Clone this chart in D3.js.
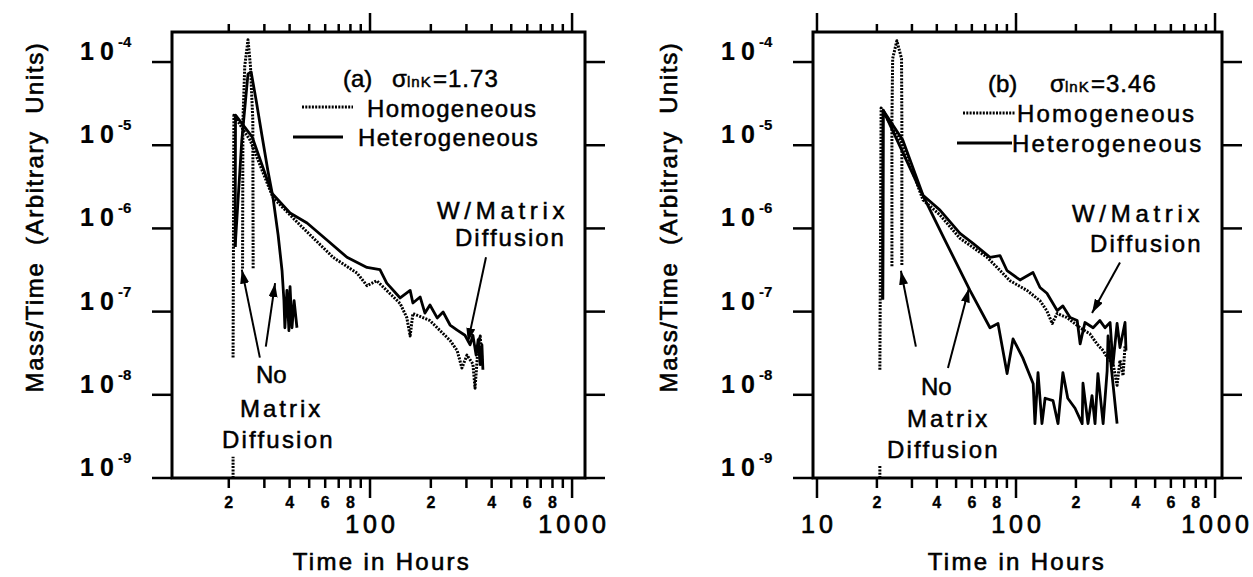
<!DOCTYPE html>
<html>
<head>
<meta charset="utf-8">
<script src="https://cdn.jsdelivr.net/npm/d3@7"></script>
<style>
  body { margin: 0; background: #fff; }
  svg { display: block; font-family: 'Liberation Sans', Arial, Helvetica, sans-serif; }
</style>
</head>
<body>
<svg id="chart" width="1253" height="577"></svg>
<script>
// Values: [time in hours, mass/time]; null = gap in the trace

// (a) sigma lnK = 1.73
const homNoMD_a = [[23.4, 3.3e-7], [23.5, 2e-5], [24.0, 9e-5], [24.9, 1.85e-4], [25.6, 9e-5], [26.3, 2e-5], [26.4, 3.3e-7]];
const homMD_a = [[21.0, 1e-9], [21.0, 1.8e-9], [21.0, null], [21.0, 2.8e-8], [21.2, 2.3e-5], [25.5, 1.15e-5],
  [33.1, 2.35e-6], [45, 1.1e-6], [65.6, 4.5e-7], [86.3, 2.9e-7], [96.6, 2.05e-7], [108, 2.35e-7], [141, 1.25e-7],
  [152, 8.5e-8], [158, 5.1e-8], [163, 9.5e-8], [198, 7.8e-8], [249, 4.5e-8], [270, 3.4e-8], [285, 2.1e-8],
  [302, 3e-8], [323, 2.35e-8], [331, 1.2e-8], [343, 3.9e-8], [351, 5.1e-8], [358, 2.6e-8]];
const hetNoMD_a = [[21.5, 6e-7], [23.2, 1.15e-5], [24.9, 7.2e-5], [25.8, 7.6e-5], [27.3, 3.5e-5], [29.2, 1.3e-5],
  [31.2, 5e-6], [33.1, 2.35e-6], [35.1, 8.3e-7], [36.7, 3.1e-7], [37.5, 1.35e-7], [37.9, 6.4e-8], [38.8, 1.8e-7],
  [39.7, 5.9e-8], [40.2, 2e-7], [41.1, 6.4e-8], [42.1, 1.35e-7], [43.5, 6.4e-8]];
const hetMD_a = [[21.5, 6e-7], [21.6, 2.3e-5], [26.1, 1.26e-5], [32.7, 2.66e-6], [40.2, 1.53e-6], [48.8, 1.16e-6],
  [61.2, 7.25e-7], [76.9, 4.5e-7], [96.6, 3.4e-7], [112, 3.2e-7], [121, 2.2e-7], [141, 1.46e-7], [158, 1.8e-7],
  [163, 1.27e-7], [177, 1.5e-7], [187, 9.6e-8], [198, 1.2e-7], [215, 8.4e-8], [230, 9.9e-8], [249, 6.9e-8],
  [270, 6e-8], [295, 5.2e-8], [313, 4e-8], [323, 5.2e-8], [335, 3e-8], [343, 4.6e-8], [351, 2.3e-8],
  [358, 4e-8], [362, 2e-8]];

// (b) sigma lnK = 3.46
const homNoMD_b = [[23.8, 3.5e-7], [23.8, 2e-5], [24.0, 1.1e-4], [25.2, 1.8e-4], [26.6, 1.1e-4], [26.7, 2e-5], [26.7, 3.5e-7]];
const homMD_b = [[20.7, 1e-9], [20.7, 1.4e-9], [20.7, null], [20.7, 2e-8], [21.0, 2.8e-5], [27.0, 1.0e-5],
  [34.1, 2.2e-6], [41.5, 1.45e-6], [52.3, 7.6e-7], [71.5, 4.5e-7], [80.3, 3.4e-7], [93.3, 2.35e-7],
  [113.5, 1.8e-7], [132, 1.35e-7], [143, 1.02e-7], [152, 7.2e-8], [161, 9.5e-8], [180, 8.5e-8], [210, 6.4e-8],
  [235, 5.4e-8], [255, 4.1e-8], [274, 3.4e-8], [290, 2.7e-8], [307, 2.4e-8], [322, 1.3e-8], [333, 2.6e-8],
  [345, 1.7e-8], [353, 3.9e-8]];
const hetNoMD_b = [[21.4, 1.4e-7], [21.5, 2.64e-5], [33.0, 2.9e-6], [44.0, 7.2e-7], [58.7, 1.8e-7], [74.0, 6.4e-8],
  [81.2, 7.2e-8], [90.2, 1.8e-8], [96.6, 4.7e-8], [108, 2.8e-8], [122, 1.36e-8], [124.5, 4.5e-9], [129, 1.85e-8],
  [135, 4.5e-9], [140, 9.1e-9], [153.5, 8.5e-9], [162.6, 4.5e-9], [172, 1.85e-8], [182, 9.1e-9], [198, 6.9e-9],
  [215, 4.5e-9], [217, 1.38e-8], [230, 4.5e-9], [241, 9.8e-9], [249.5, 4.5e-9], [258, 1.8e-8], [274, 4.5e-9],
  [287, 1.94e-8], [290, 5.1e-8], [322, 4.5e-9]];
const hetMD_b = [[21.4, 1.4e-7], [21.5, 2.64e-5], [27.0, 1.15e-5], [34.1, 2.5e-6], [41.5, 1.66e-6], [52.3, 8.7e-7],
  [60.8, 6.6e-7], [74.0, 4.5e-7], [83.1, 4.7e-7], [90.2, 3.1e-7], [104.7, 2.4e-7], [121.7, 2.95e-7], [132, 1.95e-7],
  [143, 1.66e-7], [161, 1.03e-7], [172, 1.17e-7], [187, 8.5e-8], [203, 7.8e-8], [210, 4.1e-8], [222, 7.4e-8],
  [244, 6.4e-8], [264, 7.8e-8], [280, 6.4e-8], [297, 7.4e-8], [307, 2.3e-8], [322, 7.2e-8], [333, 3.7e-8],
  [353, 7.4e-8], [357, 3.4e-8]];

// axis ticks
const Y_EXPONENTS = [-4, -5, -6, -7, -8, -9];
const X_DECADES = [10, 100, 1000];
const X_MINOR_LABELS = [2, 4, 6, 8];

const FONT = 24;
const DOTS = '2,1.3';
const svg = d3.select('#chart');

svg.append('defs').append('marker')
    .attr('id', 'head')
    .attr('viewBox', '0 0 10 10')
    .attr('refX', 10).attr('refY', 5)
    .attr('markerUnits', 'userSpaceOnUse')
    .attr('markerWidth', 14).attr('markerHeight', 9)
    .attr('preserveAspectRatio', 'none')
    .attr('orient', 'auto')
  .append('path')
    .attr('d', 'M0,0 L10,5 L0,10 Z')
    .attr('fill', '#000');

function addText(g, str, x, y, opts = {}) {
  return g.append('text')
      .attr('x', x).attr('y', y)
      .attr('font-size', opts.size || FONT)
      .attr('font-weight', opts.weight || 'normal')
      .attr('letter-spacing', opts.ls || 0)
      .attr('text-anchor', opts.anchor || 'start')
      .attr('fill', '#000')
      .attr('stroke', '#000')
      .attr('stroke-width', opts.sw == null ? 0.5 : opts.sw)
      .text(str);
}

function drawPanel(p) {
  const g = svg.append('g').attr('class', 'panel');
  const x = d3.scaleLog().domain(p.xDomain).range([p.left, p.right]);
  const y = d3.scaleLog().domain([1e-9, Math.pow(10, -3.639)]).range([p.bottom, p.top]);

  // frame
  g.append('rect')
      .attr('x', p.left).attr('y', p.top)
      .attr('width', p.right - p.left).attr('height', p.bottom - p.top)
      .attr('fill', 'none').attr('stroke', '#000').attr('stroke-width', 3);

  // x ticks top and bottom
  const xTicks = [];
  X_DECADES.forEach(d => d3.range(1, 10).forEach(m => {
    const v = m * d;
    if (v >= p.xDomain[0] && v <= p.xDomain[1]) xTicks.push({ v, m });
  }));
  g.selectAll('line.xt-top').data(xTicks).enter().append('line')
      .attr('x1', d => x(d.v)).attr('x2', d => x(d.v))
      .attr('y1', p.top).attr('y2', d => p.top - (d.m === 1 ? 19 : 8))
      .attr('stroke', '#000').attr('stroke-width', 2.5);
  g.selectAll('line.xt-bot').data(xTicks).enter().append('line')
      .attr('x1', d => x(d.v)).attr('x2', d => x(d.v))
      .attr('y1', p.bottom).attr('y2', d => p.bottom + (d.m === 1 ? 20 : 10))
      .attr('stroke', '#000').attr('stroke-width', 2.5);
  xTicks.filter(d => X_MINOR_LABELS.includes(d.m)).forEach(d => {
    addText(g, d.m, x(d.v), p.bottom + 30, { size: 16, weight: 'bold', anchor: 'middle', sw: 0.3 });
  });
  xTicks.filter(d => d.m === 1 && p.majorLabels.includes(d.v)).forEach(d => {
    addText(g, d.v, x(d.v) + 2, p.bottom + 55, { size: 25, anchor: 'middle', ls: 4, sw: 0.7 });
  });

  // y ticks both sides
  Y_EXPONENTS.forEach(e => {
    const yy = y(Math.pow(10, e));
    g.append('line').attr('x1', p.left - 20).attr('x2', p.left).attr('y1', yy).attr('y2', yy)
        .attr('stroke', '#000').attr('stroke-width', 2.5);
    g.append('line').attr('x1', p.right).attr('x2', p.right + 20).attr('y1', yy).attr('y2', yy)
        .attr('stroke', '#000').attr('stroke-width', 2.5);
    addText(g, '10', p.left - 92, yy - 2, { size: 25, weight: 'bold', ls: 6, sw: 0.2 });
    addText(g, `-${-e}`, p.left - 54, yy - 15, { size: 15, weight: 'bold', sw: 0.2 });
  });

  // axis titles
  g.append('text')
      .attr('transform', `translate(${p.yTitleX}, 217) rotate(-90)`)
      .attr('text-anchor', 'middle')
      .attr('font-size', FONT).attr('letter-spacing', 1.6)
      .attr('stroke', '#000').attr('stroke-width', 0.6)
      .style('white-space', 'pre')
      .text('Mass/Time  (Arbitrary  Units)');
  addText(g, 'Time in Hours', p.xTitleX, 570, { anchor: 'middle', ls: 2.3, sw: 0.6 });

  // curves
  const line = d3.line()
      .defined(d => d[1] != null)
      .x(d => x(d[0]))
      .y(d => y(d[1]));
  p.series.forEach(s => {
    g.append('path')
        .datum(s.data)
        .attr('d', line)
        .attr('fill', 'none')
        .attr('stroke', '#000')
        .attr('stroke-width', s.dotted ? 3 : 2.8)
        .attr('stroke-dasharray', s.dotted ? DOTS : null)
        .attr('stroke-linejoin', 'round');
  });

  // legend
  const L = p.legend;
  const title = g.append('text').attr('y', L.titleY).attr('font-size', FONT)
      .attr('stroke', '#000').attr('stroke-width', 0.5);
  title.append('tspan').attr('x', L.tagX).text(L.tag);
  title.append('tspan').attr('x', L.sigmaX).text('σ');
  title.append('tspan').attr('x', L.sigmaX + 15).attr('font-size', 15).attr('letter-spacing', 1).text('lnK');
  title.append('tspan').attr('x', L.sigmaX + 41).attr('letter-spacing', 1).text(L.value);
  g.append('line').attr('x1', L.dotX[0]).attr('x2', L.dotX[1]).attr('y1', L.dotY).attr('y2', L.dotY)
      .attr('stroke', '#000').attr('stroke-width', 3).attr('stroke-dasharray', DOTS);
  g.append('line').attr('x1', L.solX[0]).attr('x2', L.solX[1]).attr('y1', L.solY).attr('y2', L.solY)
      .attr('stroke', '#000').attr('stroke-width', 2.8);
  addText(g, 'Homogeneous', L.homX, L.homY, { ls: L.ls });
  addText(g, 'Heterogeneous', L.hetX, L.hetY, { ls: L.ls });

  // annotations
  p.notes.forEach(n => addText(g, n.text, n.x, n.y, { ls: n.ls }));
  p.arrows.forEach(a => {
    g.append('line')
        .attr('x1', x(a.from[0])).attr('y1', y(a.from[1]))
        .attr('x2', x(a.to[0])).attr('y2', y(a.to[1]))
        .attr('stroke', '#000').attr('stroke-width', 2)
        .attr('marker-end', 'url(#head)');
  });
}

drawPanel({
  left: 172, right: 585, top: 32, bottom: 478,
  xDomain: [Math.pow(10, 1.02), Math.pow(10, 3.064)],
  majorLabels: [100, 1000],
  yTitleX: 43, xTitleX: 382,
  series: [
    { data: homNoMD_a, dotted: true },
    { data: homMD_a, dotted: true },
    { data: hetNoMD_a, dotted: false },
    { data: hetMD_a, dotted: false }
  ],
  legend: {
    tag: '(a)', value: '=1.73', tagX: 343, sigmaX: 392, titleY: 87,
    dotX: [302, 353], dotY: 107, solX: [293, 343], solY: 137,
    homX: 367, homY: 117, hetX: 358, hetY: 146, ls: 1.3
  },
  notes: [
    { text: 'W/Matrix', x: 437, y: 219, ls: 4.7 },
    { text: 'Diffusion', x: 455, y: 246, ls: 2 },
    { text: 'No', x: 256, y: 383, ls: 0 },
    { text: 'Matrix', x: 240, y: 417, ls: 3 },
    { text: 'Diffusion', x: 222, y: 448, ls: 2.2 }
  ],
  arrows: [
    { from: [375, 4.5e-7], to: [305, 4.3e-8] },
    { from: [28.5, 2.8e-8], to: [23.2, 3.2e-7] },
    { from: [30.5, 3.8e-8], to: [33.9, 2.2e-7] }
  ]
});

drawPanel({
  left: 813, right: 1222, top: 32, bottom: 478,
  xDomain: [Math.pow(10, 0.98), Math.pow(10, 3.035)],
  majorLabels: [10, 100, 1000],
  yTitleX: 677, xTitleX: 1017,
  series: [
    { data: homNoMD_b, dotted: true },
    { data: homMD_b, dotted: true },
    { data: hetNoMD_b, dotted: false },
    { data: hetMD_b, dotted: false }
  ],
  legend: {
    tag: '(b)', value: '=3.46', tagX: 988, sigmaX: 1050, titleY: 92,
    dotX: [963, 1015], dotY: 113, solX: [957, 1012], solY: 143,
    homX: 1017, homY: 122, hetX: 1012, hetY: 152, ls: 2.1
  },
  notes: [
    { text: 'W/Matrix', x: 1072, y: 222, ls: 4.7 },
    { text: 'Diffusion', x: 1090, y: 252, ls: 2.2 },
    { text: 'No', x: 921, y: 395, ls: 0 },
    { text: 'Matrix', x: 907, y: 427, ls: 3 },
    { text: 'Diffusion', x: 887, y: 458, ls: 2.2 }
  ],
  arrows: [
    { from: [333, 3.9e-7], to: [241, 9.6e-8] },
    { from: [31.4, 3.8e-8], to: [26.4, 3.1e-7] },
    { from: [45.5, 2.1e-8], to: [58, 1.9e-7] }
  ]
});
</script>
</body>
</html>
